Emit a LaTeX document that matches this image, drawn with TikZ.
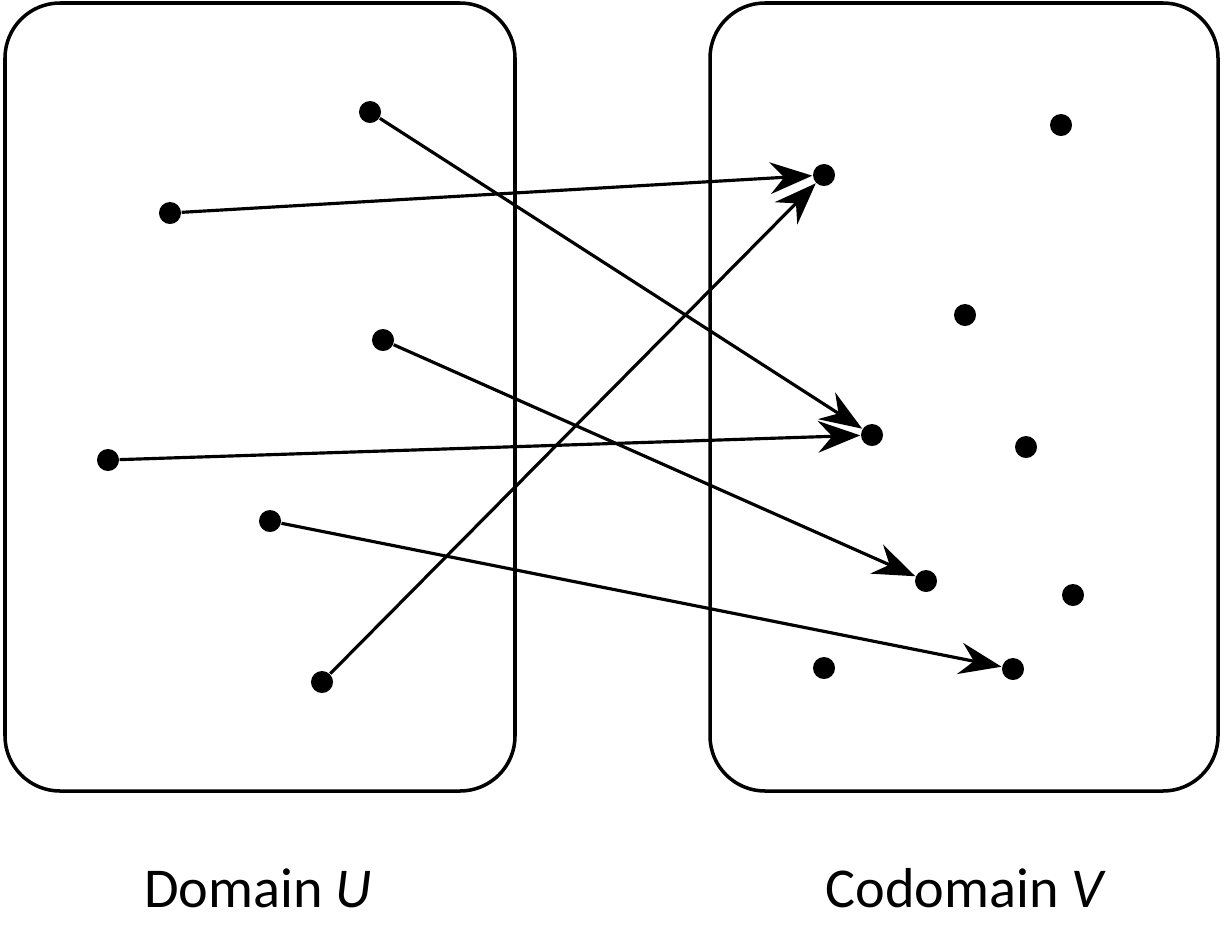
\documentclass[tikz,border=0pt]{standalone}
\usepackage{fontspec}
\setmainfont{Carlito}
\usetikzlibrary{arrows.meta}
\begin{document}
\begin{tikzpicture}[x=0.01cm, y=-0.01cm,
    dot/.style={circle, fill=black, inner sep=0pt, minimum size=0.22cm},
    setbox/.style={draw, line width=1pt, rounded corners=0.55cm},
    maps/.style={line width=0.9pt, -{Stealth[length=12pt, width=9pt, inset=4pt]}},
    lbl/.style={font=\fontsize{16}{19}\selectfont}]
\useasboundingbox (0,0) rectangle (1224,927);
\draw[setbox] (5,3) rectangle (515,791);
\draw[setbox] (710,3) rectangle (1218,791);
% domain
\node[dot] (u1) at (370,112) {};
\node[dot] (u2) at (170,213) {};
\node[dot] (u3) at (383,340) {};
\node[dot] (u4) at (108,460) {};
\node[dot] (u5) at (270,521) {};
\node[dot] (u6) at (322,682) {};
% codomain
\node[dot] (v1) at (824,175) {};
\node[dot] (v2) at (1061,125) {};
\node[dot] (v3) at (965,315) {};
\node[dot] (v4) at (872,435) {};
\node[dot] (v5) at (1026,447) {};
\node[dot] (v6) at (926,581) {};
\node[dot] (v7) at (1073,595) {};
\node[dot] (v8) at (824,668) {};
\node[dot] (v9) at (1013,669) {};
% mapping
\draw[maps] (u1) -- (v4);
\draw[maps] (u2) -- (v1);
\draw[maps] (u3) -- (v6);
\draw[maps] (u4) -- (v4);
\draw[maps] (u5) -- (v9);
\draw[maps] (u6) -- (v1);
\node[lbl] (dom) at (258,888) {Domain \textit{U}};
\node[lbl] (cod) at (966,888) {Codomain \textit{V}};
\end{tikzpicture}
\end{document}
